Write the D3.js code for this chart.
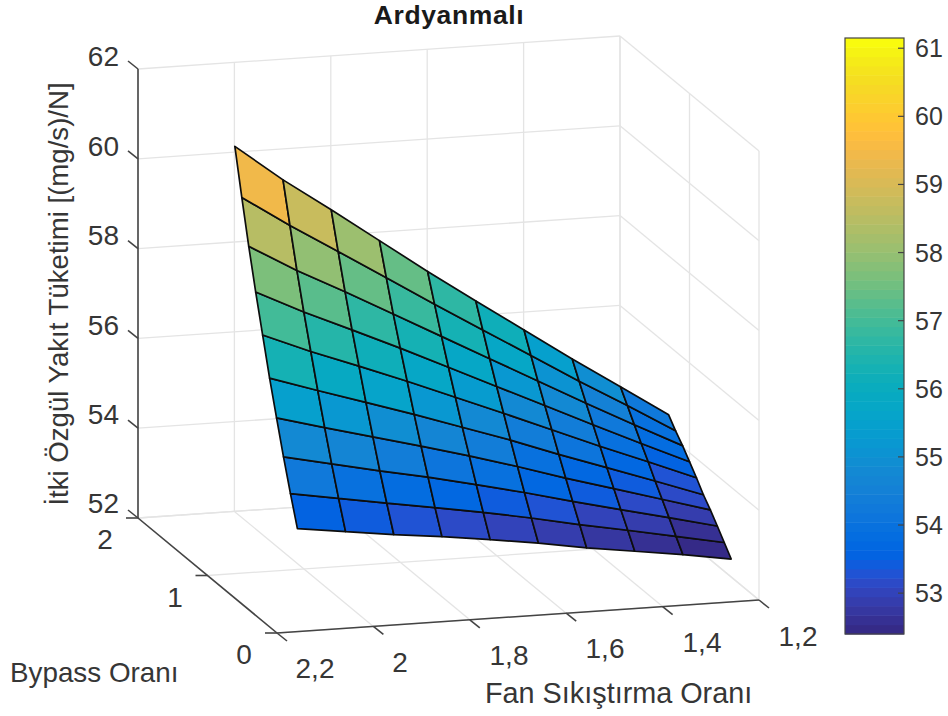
<!DOCTYPE html>
<html><head><meta charset="utf-8">
<script src="https://cdn.jsdelivr.net/npm/d3@7/dist/d3.min.js"></script>
<style>html,body{margin:0;padding:0;background:#fff}svg{display:block}text{font-family:"Liberation Sans",Arial,sans-serif;fill:#363636}</style>
</head><body><svg id="c" width="948" height="716"></svg>
<script>
const titleText = "Ardyanmalı";
const zLabel = "İtki Özgül Yakıt Tüketimi [(mg/s)/N]";
const xLabel = "Fan Sıkıştırma Oranı";
const yLabel = "Bypass Oranı";
const xTicks = [2.2, 2, 1.8, 1.6, 1.4, 1.2];
const yTicks = [2, 1, 0];
const zTicks = [62, 60, 58, 56, 54, 52];
const cbTicks = [61, 60, 59, 58, 57, 56, 55, 54, 53];
const xValues = [2.1, 2.0, 1.9, 1.8, 1.7, 1.6, 1.5, 1.4, 1.3, 1.2];
const yValues = [0.4, 0.5, 0.6, 0.7, 0.8, 0.9, 1.0, 1.1, 1.2, 1.3];
// each row: one fan ratio (xValues), across bypass ratios (yValues)
const zValues = [
 [53.74,54.39,55.08,55.82,56.58,57.41,58.24,59.13,60.09,61.10],
 [53.60,54.21,54.85,55.53,56.23,56.97,57.72,58.52,59.39,60.28],
 [53.46,54.03,54.62,55.25,55.89,56.57,57.25,57.97,58.74,59.54],
 [53.34,53.86,54.41,54.97,55.55,56.16,56.77,57.40,58.08,58.78],
 [53.20,53.68,54.17,54.68,55.19,55.73,56.27,56.83,57.42,58.02],
 [53.05,53.48,53.92,54.37,54.83,55.30,55.77,56.26,56.77,57.29],
 [52.87,53.26,53.65,54.04,54.44,54.86,55.27,55.69,56.13,56.57],
 [52.72,53.06,53.39,53.73,54.07,54.42,54.77,55.12,55.48,55.85],
 [52.57,52.85,53.14,53.42,53.70,54.00,54.28,54.57,54.87,55.16],
 [52.40,52.64,52.88,53.11,53.32,53.57,53.80,54.03,54.23,54.46]
];
const parula = [
[.2081,.1663,.5292],[.2116,.1898,.5777],[.2123,.2138,.6270],[.2081,.2386,.6771],[.1959,.2645,.7279],[.1707,.2919,.7792],[.1253,.3242,.8303],[.0591,.3598,.8683],
[.0117,.3875,.8820],[.0060,.4086,.8828],[.0165,.4266,.8786],[.0329,.4430,.8720],[.0498,.4586,.8641],[.0629,.4737,.8554],[.0723,.4887,.8467],[.0779,.5040,.8384],
[.0793,.5200,.8312],[.0749,.5375,.8263],[.0641,.5570,.8240],[.0488,.5772,.8228],[.0343,.5966,.8199],[.0265,.6137,.8135],[.0239,.6287,.8038],[.0231,.6418,.7913],
[.0228,.6535,.7768],[.0267,.6642,.7607],[.0384,.6743,.7436],[.0590,.6838,.7254],[.0843,.6928,.7062],[.1133,.7015,.6859],[.1453,.7098,.6646],[.1801,.7177,.6424],
[.2178,.7250,.6193],[.2586,.7317,.5954],[.3022,.7376,.5712],[.3482,.7424,.5473],[.3953,.7459,.5244],[.4420,.7481,.5033],[.4871,.7491,.4840],[.5300,.7491,.4661],
[.5709,.7485,.4494],[.6099,.7473,.4337],[.6473,.7456,.4188],[.6834,.7435,.4044],[.7184,.7411,.3905],[.7525,.7384,.3768],[.7858,.7356,.3633],[.8185,.7327,.3498],
[.8507,.7299,.3360],[.8824,.7274,.3217],[.9139,.7258,.3063],[.9450,.7261,.2886],[.9739,.7314,.2666],[.9938,.7455,.2403],[.9990,.7653,.2164],[.9955,.7861,.1967],
[.9880,.8066,.1794],[.9789,.8271,.1633],[.9697,.8481,.1475],[.9626,.8705,.1309],[.9589,.8949,.1132],[.9598,.9218,.0948],[.9661,.9514,.0755],[.9763,.9831,.0538]];
const cMin = 52.4, cMax = 61.15;

const svg = d3.select("#c");
// orthographic projection of the 3D box
const ax = d3.scaleLinear([2.2,1.2],[0,1]), ay = d3.scaleLinear([2,0],[0,1]), az = d3.scaleLinear([52,62],[0,1]);
const origin=[138,518], vx=[482,-33], vy=[139,115], vz=-449;
const project=(x,y,z)=>{const a=ax(x),b=ay(y),c=az(z);return [origin[0]+a*vx[0]+b*vy[0], origin[1]+a*vx[1]+b*vy[1]+c*vz];};
const line=d3.line();
const cIndex=d3.scaleLinear([cMin,cMax],[0,parula.length]).clamp(true);
const colorOf=v=>{const r=parula[Math.min(parula.length-1,Math.floor(cIndex(v)))];return d3.rgb(r[0]*255,r[1]*255,r[2]*255).formatHex();};

const grid=svg.append("g").attr("fill","none").attr("stroke","#e4e4e4").attr("stroke-width",1.3);
const seg=(g,a,b)=>g.append("path").attr("d",line([a,b]));
const xMax=1.2,xMin=2.2,yFar=2,yNear=0,zLo=52,zHi=62;
xTicks.forEach(x=>{seg(grid,project(x,yFar,zLo),project(x,yFar,zHi));seg(grid,project(x,yFar,zLo),project(x,yNear,zLo));});
yTicks.forEach(y=>{seg(grid,project(xMax,y,zLo),project(xMax,y,zHi));seg(grid,project(xMin,y,zLo),project(xMax,y,zLo));});
zTicks.forEach(z=>{seg(grid,project(xMin,yFar,z),project(xMax,yFar,z));seg(grid,project(xMax,yFar,z),project(xMax,yNear,z));});

// surface: each face takes the colour of its corner with the lowest indices on the x, y grid
const surf=svg.append("g").attr("stroke","#0d0d0d").attr("stroke-width",1.7).attr("stroke-linejoin","round");
for(let i=0;i<xValues.length-1;i++)for(let j=0;j<yValues.length-1;j++){
  const q=[[i,j],[i+1,j],[i+1,j+1],[i,j+1]];
  surf.append("path").attr("d",line(q.map(([a,b])=>project(xValues[a],yValues[b],zValues[a][b])))+"Z").attr("fill",colorOf(zValues[i+1][j]));
}

// axes
const axes=svg.append("g").attr("fill","none").attr("stroke","#444").attr("stroke-width",1.6);
seg(axes,project(xMin,yFar,zLo),project(xMin,yFar,zHi));
seg(axes,project(xMin,yFar,zLo),project(xMin,yNear,zLo));
seg(axes,project(xMin,yNear,zLo),project(xMax,yNear,zLo));
zTicks.forEach(z=>{const p=project(xMin,yFar,z);seg(axes,p,[p[0]-10,p[1]-8]);});
yTicks.forEach(y=>{const p=project(xMin,y,zLo);seg(axes,p,[p[0]-12,p[1]]);});
xTicks.forEach(x=>{const p=project(x,yNear,zLo);seg(axes,p,[p[0]+10,p[1]+8]);});

const T=(s,x,y,size,anchor,weight)=>svg.append("text").attr("x",x).attr("y",y).attr("font-size",size).attr("text-anchor",anchor||"middle").attr("font-weight",weight||"normal").text(s);
const fmt=v=>String(v).replace(".",",");
const zLabY=[66,156,245,335,424,513];
zTicks.forEach((z,i)=>T(fmt(z),119,zLabY[i],28,"end"));
const yLabPos=[[105,549],[175,607],[244,664]];
yTicks.forEach((y,i)=>T(fmt(y),yLabPos[i][0],yLabPos[i][1],28));
const xLabPos=[[315,678],[400,672],[509,665],[605,658],[702,652],[798,646]];
xTicks.forEach((x,i)=>T(fmt(x),xLabPos[i][0],xLabPos[i][1],28));
T(titleText,449,24,26.5,"middle","bold").style("fill","#1a1a1a").style("letter-spacing","0.6px");
T(yLabel,10,682,27.8,"start");
T(xLabel,485,703,28.8,"start");
svg.append("text").attr("transform","translate(68,294) rotate(-90)").attr("font-size",27.6).attr("text-anchor","middle").text(zLabel);

// colorbar
const cbX=845,cbW=59,cbTop=38,cbBot=634;
const cbY=d3.scaleLinear([cMin,cMax],[cbBot,cbTop]);
const cb=svg.append("g");
parula.forEach((c,i)=>{const v0=cIndex.invert(i),v1=cIndex.invert(i+1);
 cb.append("rect").attr("x",cbX).attr("width",cbW).attr("y",cbY(v1)).attr("height",cbY(v0)-cbY(v1)+0.5).attr("fill",d3.rgb(c[0]*255,c[1]*255,c[2]*255).formatHex());});
cb.append("rect").attr("x",cbX).attr("y",cbTop).attr("width",cbW).attr("height",cbBot-cbTop).attr("fill","none").attr("stroke","#444").attr("stroke-width",1.2);
cbTicks.forEach(t=>{cb.append("path").attr("d",line([[cbX+cbW,cbY(t)],[cbX+cbW-6,cbY(t)]])).attr("stroke","#444").attr("stroke-width",1.2).attr("fill","none");
 T(fmt(t),915,cbY(t)+9,25,"start");});
</script></body></html>
